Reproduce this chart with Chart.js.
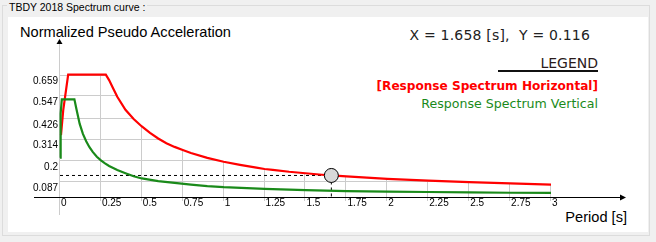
<!DOCTYPE html>
<html>
<head>
<meta charset="utf-8">
<script src="https://cdn.jsdelivr.net/npm/chart.js@4.4.1/dist/chart.umd.min.js"></script>
<style>
  html, body { margin: 0; padding: 0; background: #f0f0f0; }
  #wrap { position: relative; width: 656px; height: 242px; overflow: hidden; background: #f0f0f0; }
  #group { position: absolute; left: 2px; top: 5px; width: 648px; height: 231px; border: 1px solid #dcdcdc; box-sizing: border-box; }
  #panel { position: absolute; left: 8px; top: 17px; width: 640px; height: 215px; background: #ffffff; }
  .t { position: absolute; white-space: pre; line-height: 1; }
  #glabel { left: 7px; top: 1.2px; padding: 0 2px; background: #f0f0f0; font: 10.5px "Liberation Sans", Arial, sans-serif; color: #000; }
  #title { left: 20px; top: 23.6px; font: 14.6px "Liberation Sans", Arial, sans-serif; color: #000; }
  #cursor { left: 409.5px; top: 26.9px; font: 14px "DejaVu Sans", Verdana, sans-serif; letter-spacing: 0.2px; color: #222; }
  #legendHead { right: 58px; top: 54.9px; font: 14px "DejaVu Sans", Verdana, sans-serif; color: #2a1a1a; }
  #legendLine { position: absolute; left: 498px; top: 70px; width: 100px; height: 2px; background: #111; }
  #legRed { right: 58px; top: 78.8px; font: bold 12.1px "DejaVu Sans", Verdana, sans-serif; color: #ff0000; }
  #legGreen { right: 58px; top: 95.8px; font: 12.6px "DejaVu Sans", Verdana, sans-serif; color: #1a8a1a; }
  #xtitle { right: 29px; top: 208.6px; font: 14.6px "Liberation Sans", Arial, sans-serif; color: #000; }
  #cw { position: absolute; left: 0; top: 0; width: 656px; height: 242px; }
</style>
</head>
<body>
<div id="wrap">
  <div id="group"></div>
  <div class="t" id="glabel">TBDY 2018 Spectrum curve :</div>
  <div id="panel"></div>
  <div class="t" id="title">Normalized Pseudo Acceleration</div>
  <div class="t" id="cursor">X = 1.658 [s],  Y = 0.116</div>
  <div class="t" id="legendHead">LEGEND</div>
  <div id="legendLine"></div>
  <div class="t" id="legRed">[Response Spectrum Horizontal]</div>
  <div class="t" id="legGreen">Response Spectrum Vertical</div>
  <div class="t" id="xtitle">Period [s]</div>
  <div id="cw"><canvas id="c"></canvas></div>
</div>
<script>
// ---- data ----
const periodTicks = [0, 0.25, 0.5, 0.75, 1, 1.25, 1.5, 1.75, 2, 2.25, 2.5, 2.75, 3];
const periodTickLabels = ['0', '0.25', '0.5', '0.75', '1', '1.25', '1.5', '1.75', '2', '2.25', '2.5', '2.75', '3'];
const accelTicks = [0.087, 0.2, 0.314, 0.426, 0.547, 0.659];
const accelTickLabels = ['0.087', '0.2', '0.314', '0.426', '0.547', '0.659'];

// Response Spectrum Horizontal
const redPeriods = [0.006, 0.02, 0.05, 0.28, 0.30, 0.325, 0.35, 0.40, 0.45, 0.50, 0.55, 0.60, 0.65, 0.70, 0.75, 0.80, 0.90, 1.00, 1.10, 1.20, 1.25, 1.30, 1.40, 1.50, 1.60, 1.658, 1.75, 1.90, 2.00, 2.25, 2.50, 2.75, 3.00];
const redValues  = [0.333, 0.47, 0.659, 0.659, 0.63, 0.585, 0.54, 0.47, 0.42, 0.38, 0.345, 0.315, 0.29, 0.27, 0.253, 0.237, 0.211, 0.19, 0.173, 0.158, 0.151, 0.146, 0.136, 0.128, 0.12, 0.116, 0.111, 0.103, 0.098, 0.088, 0.080, 0.073, 0.067];

// Response Spectrum Vertical
const greenPeriods = [0, 0.002, 0.006, 0.011, 0.088, 0.10, 0.12, 0.14, 0.16, 0.18, 0.20, 0.225, 0.25, 0.275, 0.30, 0.35, 0.40, 0.45, 0.50, 0.60, 0.70, 0.80, 0.90, 1.00, 1.25, 1.50, 1.75, 2.00, 2.25, 2.50, 2.75, 3.00];
const greenValues  = [0.212, 0.33, 0.45, 0.526, 0.526, 0.475, 0.395, 0.34, 0.30, 0.268, 0.243, 0.217, 0.197, 0.181, 0.167, 0.145, 0.128, 0.112, 0.100, 0.086, 0.076, 0.067, 0.059, 0.053, 0.044, 0.037, 0.032, 0.029, 0.027, 0.025, 0.023, 0.022];

// cursor
const cursorX = 1.658;
const cursorY = 0.116;

const toXY = (xs, ys) => xs.map((v, i) => ({ x: v, y: ys[i] }));

const framePlugin = {
  id: 'frame',
  beforeDatasetsDraw(chart) {
    const { ctx, chartArea: a, scales: { x, y } } = chart;
    const x0 = x.getPixelForValue(0), y0 = y.getPixelForValue(0);
    const redAt = t => {
      for (let i = 0; i < redPeriods.length - 1; i++) {
        const t0 = redPeriods[i], t1 = redPeriods[i + 1];
        if (t >= t0 && t <= t1) return redValues[i] + (redValues[i + 1] - redValues[i]) * (t - t0) / (t1 - t0);
      }
      return t < redPeriods[0] ? redValues[0] : redValues[redValues.length - 1];
    };
    const lastPeriodAbove = v => {
      for (let i = redValues.length - 1; i >= 0; i--) {
        if (redValues[i] >= v) {
          if (i === redValues.length - 1) return redPeriods[i];
          const v0 = redValues[i], v1 = redValues[i + 1];
          return redPeriods[i] + (redPeriods[i + 1] - redPeriods[i]) * (v0 - v) / (v0 - v1);
        }
      }
      return 0;
    };
    ctx.save();
    ctx.strokeStyle = '#cccccc';
    ctx.lineWidth = 1;
    ctx.beginPath();
    periodTicks.forEach(t => {
      if (t === 0) return;
      const px = Math.round(x.getPixelForValue(t)) - 0.5;
      ctx.moveTo(px, y.getPixelForValue(redAt(t)));
      ctx.lineTo(px, y0 + 4);
    });
    accelTicks.forEach(v => {
      const py = Math.round(y.getPixelForValue(v)) + 0.5;
      ctx.moveTo(x0, py);
      ctx.lineTo(x.getPixelForValue(lastPeriodAbove(v)), py);
    });
    ctx.stroke();
    // y axis (gray) with arrow
    const ax = Math.round(x0) - 0.5;
    ctx.beginPath();
    ctx.moveTo(ax, a.top + 2);
    ctx.lineTo(ax, y0 + 18);
    ctx.stroke();
    ctx.fillStyle = '#000';
    ctx.beginPath();
    ctx.moveTo(ax, a.top - 3);
    ctx.lineTo(ax - 3, a.top + 2);
    ctx.lineTo(ax + 3, a.top + 2);
    ctx.closePath();
    ctx.fill();
    // x axis (black) with arrow
    const ay = Math.round(y0) + 0.5;
    ctx.strokeStyle = '#000';
    ctx.beginPath();
    ctx.moveTo(x0 - 26, ay);
    ctx.lineTo(a.right - 2, ay);
    ctx.stroke();
    ctx.beginPath();
    ctx.moveTo(a.right + 3, ay);
    ctx.lineTo(a.right - 3, ay - 3);
    ctx.lineTo(a.right - 3, ay + 3);
    ctx.closePath();
    ctx.fill();
    ctx.restore();
  }
};

const tickFont = { family: '"Liberation Sans", Arial, sans-serif', size: 10 };

new Chart(document.getElementById('c'), {
  type: 'line',
  data: {
    datasets: [
      {
        label: 'cursor',
        data: [{ x: cursorX, y: cursorY }],
        showLine: false,
        pointRadius: 7,
        pointBackgroundColor: '#d8d8d8',
        pointBorderColor: '#000',
        pointBorderWidth: 1,
        order: 0,
        clip: false
      },
      {
        label: 'Response Spectrum Vertical',
        data: toXY(greenPeriods, greenValues),
        borderColor: '#1a8a1a',
        borderWidth: 2.2,
        pointRadius: 0,
        tension: 0,
        fill: false,
        order: 1,
        clip: 6
      },
      {
        label: 'Response Spectrum Horizontal',
        data: toXY(redPeriods, redValues),
        borderColor: '#ff0000',
        borderWidth: 2.2,
        pointRadius: 0,
        tension: 0,
        fill: false,
        order: 2,
        clip: 6
      },
      {
        label: 'cursorH',
        data: [{ x: 0, y: cursorY }, { x: cursorX, y: cursorY }],
        borderColor: '#000',
        borderWidth: 1,
        borderDash: [3, 3],
        pointRadius: 0,
        order: 3
      },
      {
        label: 'cursorV',
        data: [{ x: cursorX, y: cursorY }, { x: cursorX, y: 0 }],
        borderColor: '#000',
        borderWidth: 1,
        borderDash: [3, 3],
        pointRadius: 0,
        order: 3
      }
    ]
  },
  options: {
    responsive: true,
    maintainAspectRatio: false,
    animation: false,
    devicePixelRatio: 1,
    layout: { padding: { left: 0, top: 42, right: 33, bottom: 0 } },
    plugins: { legend: { display: false }, tooltip: { enabled: false } },
    events: [],
    scales: {
      x: {
        type: 'linear',
        position: 'bottom',
        min: 0,
        max: 3.44,
        grid: { display: false, drawTicks: false },
        border: { display: false },
        afterBuildTicks: s => { s.ticks = periodTicks.map(v => ({ value: v })); },
        afterFit: s => { s.height = 45; },
        ticks: {
          autoSkip: false, maxRotation: 0, minRotation: 0,
          align: 'start', labelOffset: 1, padding: 0,
          color: '#000', font: tickFont,
          callback: (v, i) => periodTickLabels[i]
        }
      },
      y: {
        type: 'linear',
        position: 'left',
        min: 0,
        max: 0.835,
        grid: { display: false, drawTicks: false },
        border: { display: false },
        afterBuildTicks: s => { s.ticks = accelTicks.map(v => ({ value: v })); },
        afterFit: s => { s.width = 60; },
        ticks: {
          autoSkip: false, padding: 2, labelOffset: 7,
          color: '#000', font: tickFont,
          callback: (v, i) => accelTickLabels[i]
        }
      }
    }
  },
  plugins: [framePlugin]
});
</script>
</body>
</html>
